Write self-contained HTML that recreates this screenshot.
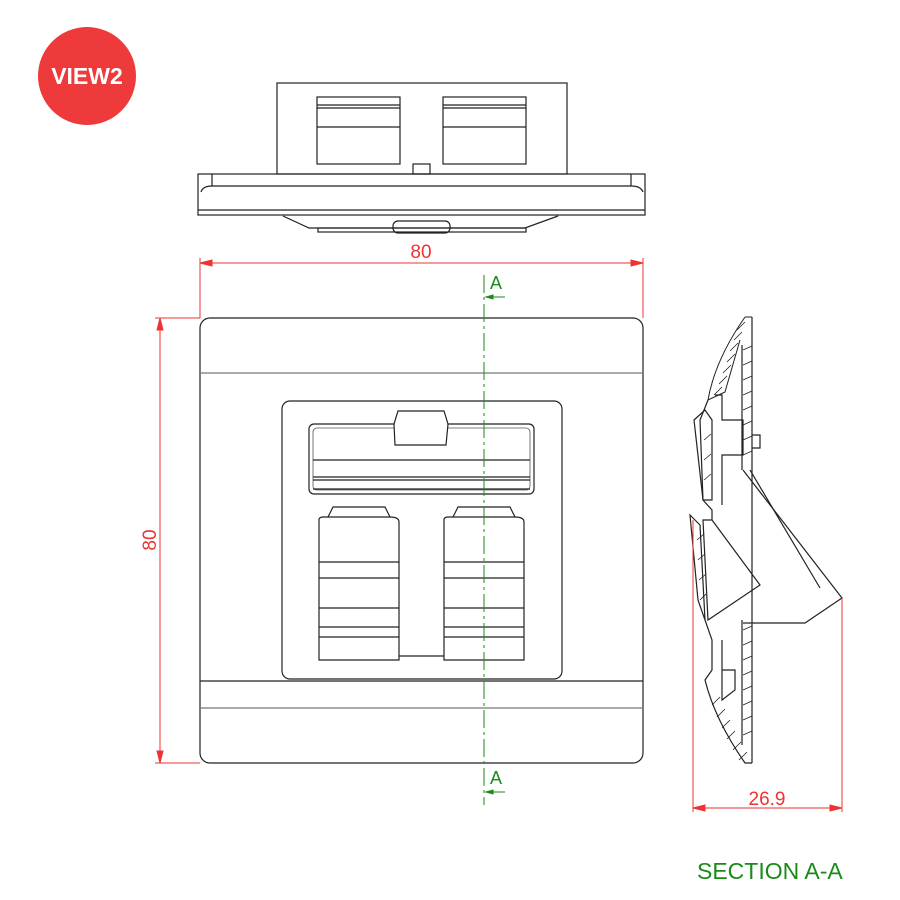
<!DOCTYPE html>
<html><head><meta charset="utf-8"><style>body{margin:0;background:#fff}svg{display:block}</style></head><body>
<svg width="900" height="900" viewBox="0 0 900 900" xmlns="http://www.w3.org/2000/svg" font-family="Liberation Sans, sans-serif">
<circle cx="87" cy="76" r="49" fill="#ee3a3a"/>
<text x="87" y="84" fill="#fff" font-size="23" font-weight="bold" text-anchor="middle">VIEW2</text>
<g fill="none" stroke="#222" stroke-width="1.2">
<rect x="277" y="83" width="290" height="91"/>
<rect x="317" y="97" width="83" height="67"/><line x1="317" y1="105" x2="400" y2="105"/><line x1="317" y1="108" x2="400" y2="108"/><line x1="317" y1="127" x2="400" y2="127"/>
<rect x="443" y="97" width="83" height="67"/><line x1="443" y1="105" x2="526" y2="105"/><line x1="443" y1="108" x2="526" y2="108"/><line x1="443" y1="127" x2="526" y2="127"/>
<rect x="413" y="164" width="17" height="10"/>
<rect x="198" y="174" width="447" height="41"/>
<line x1="212" y1="174" x2="212" y2="186"/><line x1="631" y1="174" x2="631" y2="186"/>
<path d="M201 192 Q203 186 212 186 L631 186 Q641 186 643 192"/>
<line x1="198" y1="210" x2="645" y2="210"/>
<path d="M283 216 L309 228 L525 228 L558 216"/>
<rect x="318" y="228" width="208" height="4"/>
<rect x="393" y="221" width="57" height="12" rx="5"/>
<rect x="200" y="318" width="443" height="445" rx="10"/>
<line x1="200" y1="373" x2="643" y2="373" stroke="#777"/>
<line x1="200" y1="681" x2="643" y2="681"/>
<line x1="200" y1="708" x2="643" y2="708" stroke="#777"/>
<rect x="282" y="401" width="280" height="278" rx="8"/>
<rect x="309" y="424" width="225" height="70" rx="5"/>
<rect x="313" y="428" width="217" height="62" rx="4" stroke="#555" stroke-width="0.8"/>
<line x1="313" y1="460" x2="530" y2="460"/><line x1="313" y1="477" x2="530" y2="477"/><line x1="313" y1="480" x2="530" y2="480"/><line x1="313" y1="489" x2="530" y2="489"/>
<path d="M395 445 L394 424 L398 411 L444 411 L448 424 L446 445 Z" fill="#fff"/>
<g id="jk">
<path d="M319 660 L319 519 Q320 517 323 517 L390 517 Q399 517 399 522 L399 660 Z" fill="#fff"/>
<path d="M328 517 L333 507 L385 507 L390 517"/>
<line x1="319" y1="562" x2="399" y2="562"/><line x1="319" y1="578" x2="399" y2="578"/><line x1="319" y1="608" x2="399" y2="608"/>
<line x1="319" y1="627" x2="399" y2="627"/><line x1="319" y1="637" x2="399" y2="637"/>
</g>
<use href="#jk" x="125"/>
<line x1="399" y1="656" x2="444" y2="656"/>
<line x1="752" y1="317" x2="752" y2="763"/>
<line x1="742" y1="345" x2="742" y2="470"/><line x1="742" y1="620" x2="742" y2="745"/>
<path d="M745 317 L752 317 M745 317 Q715 360 708 400 L725 392 L740 340" fill="#fff" stroke-width="1"/>
<path d="M708 400 L700 420 L703 500 L712 510 L712 520"/>
<path d="M694 420 L705 410 L712 420 L712 500 L703 500 Z"/>
<path d="M715 395 L722 395 L722 420 L743 420 L743 455 L722 455 L722 505"/>
<path d="M743 470 L842 598 L805 623 L743 623"/>
<path d="M750 470 L820 588"/>
<path d="M703 520 L712 520 L760 585 L708 620 Z"/>
<path d="M690 515 L700 525 L705 620 L698 600 Z"/>
<path d="M705 620 L712 640 L712 670 L705 680 Q715 720 745 763 L752 763"/>
<path d="M722 640 L722 700 L735 690 L735 670 L722 670"/>
<path d="M752 435 L760 435 L760 448 L752 448"/>
</g>
<g stroke="#222" stroke-width="0.8">
<path d="M745 322 l-8 8 M742 332 l-8 8 M738 343 l-8 8 M735 354 l-8 8 M731 365 l-8 8 M727 376 l-8 8 M722 387 l-8 8 M743 350 l9 -4 M743 365 l9 -4 M743 380 l9 -4 M743 395 l9 -4 M743 410 l9 -4 M743 425 l9 -4 M743 440 l9 -4 M743 455 l9 -4 M743 630 l9 -4 M743 645 l9 -4 M743 660 l9 -4 M743 675 l9 -4 M743 690 l9 -4 M743 705 l9 -4 M743 720 l9 -4 M743 735 l9 -4 M712 705 l8 -8 M717 717 l8 -8 M722 728 l8 -8 M727 739 l8 -8 M733 750 l8 -8 M739 760 l8 -8 M697 540 l7 -6 M698 560 l7 -6 M699 580 l7 -6 M700 600 l6 -6 M704 440 l7 -6 M704 460 l7 -6 M704 480 l7 -6"/>
</g>
<g stroke="#e33" stroke-width="1" fill="#e33">
<line x1="200" y1="258" x2="200" y2="318"/><line x1="643" y1="258" x2="643" y2="318"/>
<line x1="200" y1="263" x2="643" y2="263"/>
<path d="M200 263 l12 -3 v6 z M643 263 l-12 -3 v6 z"/>
<line x1="155" y1="318" x2="200" y2="318"/><line x1="155" y1="763" x2="200" y2="763"/>
<line x1="160" y1="318" x2="160" y2="763"/>
<path d="M160 318 l-3 12 h6 z M160 763 l-3 -12 h6 z"/>
<line x1="693" y1="520" x2="693" y2="812"/><line x1="842" y1="598" x2="842" y2="812"/>
<line x1="693" y1="808" x2="842" y2="808"/>
<path d="M693 808 l12 -3 v6 z M842 808 l-12 -3 v6 z"/>
</g>
<g fill="#e33" font-size="19">
<text x="421" y="258" text-anchor="middle">80</text>
<text transform="translate(156 540) rotate(-90)" text-anchor="middle">80</text>
<text x="767" y="805" text-anchor="middle">26.9</text>
</g>
<g stroke="#1a8a1a" fill="#1a8a1a">
<line x1="484" y1="275" x2="484" y2="805" stroke-dasharray="18 4 3 4" stroke-width="1"/>
<line x1="486" y1="297" x2="505" y2="297"/><path d="M486 297 l7 -2 v4 z"/>
<line x1="486" y1="792" x2="505" y2="792"/><path d="M486 792 l7 -2 v4 z"/>
</g>
<g fill="#1a8a1a" font-size="18">
<text x="496" y="289" text-anchor="middle">A</text>
<text x="496" y="784" text-anchor="middle">A</text>
<text x="697" y="879" font-size="23">SECTION A-A</text>
</g>
</svg>
</body></html>
